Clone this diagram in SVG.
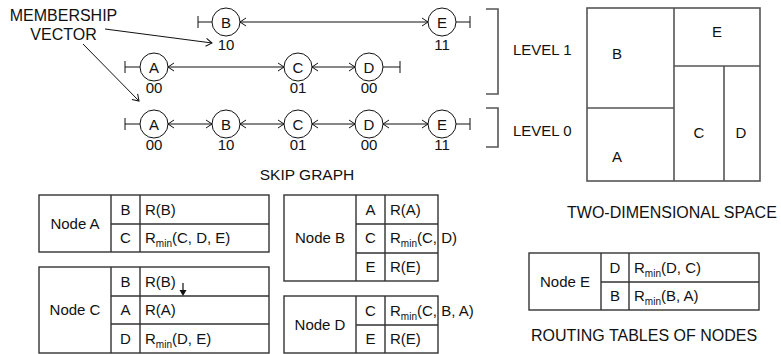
<svg xmlns="http://www.w3.org/2000/svg" width="781" height="354" viewBox="0 0 781 354">
<style>
text{font-family:"Liberation Sans",Arial,sans-serif;font-size:15px;fill:#111}
.m{text-anchor:middle}
.big{font-size:16px}
.c{fill:#fff;stroke:#111;stroke-width:1}
.l{stroke:#111;stroke-width:1;fill:none}
.g{stroke:#555;stroke-width:1.6;fill:none}
.t{stroke:#333;stroke-width:1.4;fill:none}
.sub{font-size:10px}
</style>
<defs>
<marker id="ch" viewBox="0 0 8 10" refX="7" refY="5" markerWidth="8" markerHeight="10" markerUnits="userSpaceOnUse" orient="auto-start-reverse">
<path d="M1,1 L7,5 L1,9" fill="none" stroke="#111" stroke-width="1"/>
</marker>
</defs>

<g id="connectors">
<!-- row 1 -->
<path class="l" d="M198,16 V28 M198,22 H212"/>
<line class="l" x1="240" y1="22" x2="428" y2="22" marker-start="url(#ch)" marker-end="url(#ch)"/>
<path class="l" d="M456,22 H470 M470,16 V28"/>
<!-- row 2 -->
<path class="l" d="M125,61 V73 M125,67 H140"/>
<line class="l" x1="168" y1="67" x2="284" y2="67" marker-start="url(#ch)" marker-end="url(#ch)"/>
<line class="l" x1="312" y1="67" x2="355" y2="67" marker-start="url(#ch)" marker-end="url(#ch)"/>
<path class="l" d="M383,67 H400 M400,61 V73"/>
<!-- row 3 -->
<path class="l" d="M125,118 V130 M125,124 H140"/>
<line class="l" x1="168" y1="124" x2="212" y2="124" marker-start="url(#ch)" marker-end="url(#ch)"/>
<line class="l" x1="240" y1="124" x2="284" y2="124" marker-start="url(#ch)" marker-end="url(#ch)"/>
<line class="l" x1="312" y1="124" x2="355" y2="124" marker-start="url(#ch)" marker-end="url(#ch)"/>
<line class="l" x1="383" y1="124" x2="428" y2="124" marker-start="url(#ch)" marker-end="url(#ch)"/>
<path class="l" d="M456,124 H470 M470,118 V130"/>
<!-- membership vector pointers -->
<line class="l" x1="105" y1="29" x2="212" y2="43" marker-end="url(#ch)"/>
<line class="l" x1="83" y1="44" x2="139" y2="101" marker-end="url(#ch)"/>
</g>

<g id="node-B-L1"><circle class="c" cx="226" cy="22" r="14"/><text class="m" x="226" y="27.5">B</text><text class="m" x="226" y="50">10</text></g>
<g id="node-E-L1"><circle class="c" cx="442" cy="22" r="14"/><text class="m" x="442" y="27.5">E</text><text class="m" x="442" y="50">11</text></g>
<g id="node-A-L1"><circle class="c" cx="154" cy="67" r="14"/><text class="m" x="154" y="72.5">A</text><text class="m" x="154" y="93">00</text></g>
<g id="node-C-L1"><circle class="c" cx="298" cy="67" r="14"/><text class="m" x="298" y="72.5">C</text><text class="m" x="298" y="93">01</text></g>
<g id="node-D-L1"><circle class="c" cx="369" cy="67" r="14"/><text class="m" x="369" y="72.5">D</text><text class="m" x="369" y="93">00</text></g>
<g id="node-A-L0"><circle class="c" cx="154" cy="124" r="14"/><text class="m" x="154" y="129.5">A</text><text class="m" x="154" y="150">00</text></g>
<g id="node-B-L0"><circle class="c" cx="226" cy="124" r="14"/><text class="m" x="226" y="129.5">B</text><text class="m" x="226" y="150">10</text></g>
<g id="node-C-L0"><circle class="c" cx="298" cy="124" r="14"/><text class="m" x="298" y="129.5">C</text><text class="m" x="298" y="150">01</text></g>
<g id="node-D-L0"><circle class="c" cx="369" cy="124" r="14"/><text class="m" x="369" y="129.5">D</text><text class="m" x="369" y="150">00</text></g>
<g id="node-E-L0"><circle class="c" cx="442" cy="124" r="14"/><text class="m" x="442" y="129.5">E</text><text class="m" x="442" y="150">11</text></g>

<g id="labels">
<text class="m big" x="63.5" y="21">MEMBERSHIP</text>
<text class="m big" x="63.5" y="40">VECTOR</text>
<text class="m" x="307" y="180" style="font-size:15.5px">SKIP GRAPH</text>
<path class="g" d="M486,9 H498 V94 H486"/>
<path class="g" d="M486,108 H498 V147 H486"/>
<text x="513" y="55">LEVEL 1</text>
<text x="513" y="136">LEVEL 0</text>
</g>

<g id="space">
<rect class="g" x="587" y="8" width="173" height="173"/>
<path class="g" d="M674,8 V181 M587,108 H674 M674,66 H760 M724,66 V181"/>
<text class="m" x="617" y="59">B</text>
<text class="m" x="717" y="37">E</text>
<text class="m" x="699" y="138">C</text>
<text class="m" x="741" y="138">D</text>
<text class="m" x="617" y="162">A</text>
<text class="big" x="567" y="218">TWO-DIMENSIONAL SPACE</text>
</g>

<g id="table-A">
<rect class="t" x="39" y="195" width="230" height="57"/>
<path class="t" d="M111,195 V252 M140,195 V252 M111,224 H269"/>
<text class="m" x="75" y="229">Node A</text>
<text class="m" x="125.5" y="215">B</text><text x="145" y="215">R(B)</text>
<text class="m" x="125.5" y="243">C</text><text x="145" y="243">R<tspan class="sub" dy="4">min</tspan><tspan dy="-4">(C, D, E)</tspan></text>
</g>

<g id="table-C">
<rect class="t" x="39" y="267" width="230" height="86"/>
<path class="t" d="M111,267 V353 M140,267 V353 M111,296 H269 M111,324 H269"/>
<text class="m" x="75" y="315">Node C</text>
<text class="m" x="125.5" y="287">B</text><text x="145" y="287">R(B)</text>
<line x1="183" y1="283" x2="183" y2="291" stroke="#111" stroke-width="1.2"/>
<polygon points="179.5,290 186.5,290 183,296" fill="#111"/>
<text class="m" x="125.5" y="315">A</text><text x="145" y="315">R(A)</text>
<text class="m" x="125.5" y="344">D</text><text x="145" y="344">R<tspan class="sub" dy="4">min</tspan><tspan dy="-4">(D, E)</tspan></text>
</g>

<g id="table-B">
<rect class="t" x="284" y="195" width="154" height="86"/>
<path class="t" d="M356,195 V281 M385,195 V281 M356,224 H438 M356,253 H438"/>
<text class="m" x="320" y="243">Node B</text>
<text class="m" x="370.5" y="215">A</text><text x="390" y="215">R(A)</text>
<text class="m" x="370.5" y="243">C</text><text x="390" y="243">R<tspan class="sub" dy="4">min</tspan><tspan dy="-4">(C, D)</tspan></text>
<text class="m" x="370.5" y="272">E</text><text x="390" y="272">R(E)</text>
</g>

<g id="table-D">
<rect class="t" x="284" y="296" width="154" height="57"/>
<path class="t" d="M356,296 V353 M385,296 V353 M356,325 H438"/>
<text class="m" x="320" y="330">Node D</text>
<text class="m" x="370.5" y="316">C</text><text x="390" y="316">R<tspan class="sub" dy="4">min</tspan><tspan dy="-4">(C, B, A)</tspan></text>
<text class="m" x="370.5" y="344">E</text><text x="390" y="344">R(E)</text>
</g>

<g id="table-E">
<rect class="t" x="529" y="253" width="230" height="57"/>
<path class="t" d="M601,253 V310 M629,253 V310 M601,282 H759"/>
<text class="m" x="565" y="287">Node E</text>
<text class="m" x="615" y="273">D</text><text x="634" y="273">R<tspan class="sub" dy="4">min</tspan><tspan dy="-4">(D, C)</tspan></text>
<text class="m" x="615" y="301">B</text><text x="634" y="301">R<tspan class="sub" dy="4">min</tspan><tspan dy="-4">(B, A)</tspan></text>
<text class="big" x="531" y="341">ROUTING TABLES OF NODES</text>
</g>
</svg>
